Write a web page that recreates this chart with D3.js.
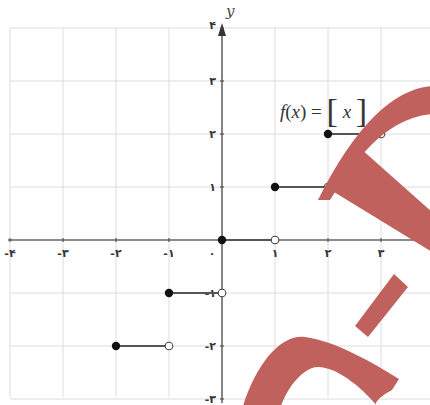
<!DOCTYPE html>
<html>
<head>
<meta charset="utf-8">
<script src="https://cdn.jsdelivr.net/npm/d3@7"></script>
<style>
  html, body { margin: 0; padding: 0; background: #fff; }
  svg { display: block; }
</style>
</head>
<body>
<div id="chart"></div>
<script>
// step pieces of f(x) = [x]
const stepStart = [-2, -1, 0, 1, 2];
const stepValue = [-2, -1, 0, 1, 2];

const xTicks = [-4, -3, -2, -1, 0, 1, 2, 3];
const yTicks = [-3, -2, -1, 1, 2, 3, 4];
const faDigits = ["۰", "۱", "۲", "۳", "۴", "۵", "۶", "۷", "۸", "۹"];

const width = 430, height = 405;

const toFa = v => (v < 0 ? "-" : "") + String(Math.abs(v)).split("").map(c => faDigits[+c]).join("");

const svg = d3.select("#chart")
  .append("svg")
  .attr("width", width)
  .attr("height", height);

const x = d3.scaleLinear().domain([-4, 4]).range([10, 434]);
const y = d3.scaleLinear().domain([-3, 4]).range([399, 28]);

// grid
const grid = svg.append("g").attr("stroke", "#dcdcdc").attr("stroke-width", 1);
grid.selectAll("line.v")
  .data(d3.range(-4, 5))
  .join("line")
  .attr("x1", d => x(d)).attr("x2", d => x(d))
  .attr("y1", y(4)).attr("y2", y(-3) - 2);
grid.selectAll("line.h")
  .data(d3.range(-3, 5))
  .join("line")
  .attr("x1", x(-4)).attr("x2", width)
  .attr("y1", d => y(d)).attr("y2", d => y(d));

// axes
const axes = svg.append("g").attr("stroke", "#6a6a6a").attr("stroke-width", 1.6);
axes.append("line")
  .attr("x1", x(-4)).attr("x2", width)
  .attr("y1", y(0)).attr("y2", y(0));
axes.append("line")
  .attr("x1", x(0)).attr("x2", x(0))
  .attr("y1", y(-3) + 4).attr("y2", y(4) + 4);
svg.append("path")
  .attr("d", `M${x(0)},${y(4) - 5} L${x(0) - 4},${y(4) + 8} L${x(0) + 4},${y(4) + 8} Z`)
  .attr("fill", "#333");
svg.append("circle").attr("cx", x(-4)).attr("cy", y(0)).attr("r", 1.8).attr("fill", "#666");

// ticks
svg.append("g").attr("stroke", "#555").attr("stroke-width", 1.2)
  .selectAll("line")
  .data(xTicks.filter(d => d !== 0 && d !== -4))
  .join("line")
  .attr("x1", d => x(d)).attr("x2", d => x(d))
  .attr("y1", y(0) - 2).attr("y2", y(0) + 2);
svg.append("g").attr("stroke", "#555").attr("stroke-width", 1.2)
  .selectAll("line")
  .data(yTicks)
  .join("line")
  .attr("x1", x(0) - 2).attr("x2", x(0) + 2)
  .attr("y1", d => y(d)).attr("y2", d => y(d));

// tick labels
const labelFont = "'DejaVu Sans', sans-serif";
svg.append("g")
  .selectAll("text")
  .data(xTicks)
  .join("text")
  .attr("x", d => d === 0 ? x(d) - 10 : x(d))
  .attr("y", y(0) + 17)
  .attr("text-anchor", "middle")
  .attr("font-family", labelFont)
  .attr("font-size", 11)
  .attr("font-weight", "bold")
  .attr("fill", "#333")
  .text(d => toFa(d));
svg.append("g")
  .selectAll("text")
  .data(yTicks)
  .join("text")
  .attr("x", x(0) - 6)
  .attr("y", d => y(d) + (d === 4 ? 1 : 4))
  .attr("text-anchor", "end")
  .attr("font-family", labelFont)
  .attr("font-size", 11)
  .attr("font-weight", "bold")
  .attr("fill", "#333")
  .text(d => toFa(d));

svg.append("text")
  .attr("x", x(0) + 4).attr("y", 16)
  .attr("font-family", "'DejaVu Serif', serif")
  .attr("font-style", "italic")
  .attr("font-size", 15)
  .attr("fill", "#444")
  .text("y");

// step segments
const steps = stepStart.map((s, i) => ({ x0: s, x1: s + 1, v: stepValue[i] }));
svg.append("g").attr("stroke", "#555").attr("stroke-width", 2)
  .selectAll("line")
  .data(steps)
  .join("line")
  .attr("x1", d => x(d.x0)).attr("x2", d => x(d.x1))
  .attr("y1", d => y(d.v)).attr("y2", d => y(d.v));
svg.append("g")
  .selectAll("circle")
  .data(steps)
  .join("circle")
  .attr("cx", d => x(d.x1)).attr("cy", d => y(d.v)).attr("r", 3.8)
  .attr("fill", "#fff").attr("stroke", "#444").attr("stroke-width", 1.1);
svg.append("g")
  .selectAll("circle")
  .data(steps)
  .join("circle")
  .attr("cx", d => x(d.x0)).attr("cy", d => y(d.v)).attr("r", 4.2)
  .attr("fill", "#111");

// formula label
const eq = svg.append("text")
  .attr("x", 280).attr("y", 118)
  .attr("font-family", "'Liberation Serif', 'DejaVu Serif', serif")
  .attr("font-size", 19)
  .attr("fill", "#333");
eq.append("tspan").attr("font-style", "italic").text("f");
eq.append("tspan").text("(");
eq.append("tspan").attr("font-style", "italic").text("x");
eq.append("tspan").text(") = ");
eq.append("tspan").attr("font-size", 34).attr("dy", 4).text("[");
eq.append("tspan").attr("font-style", "italic").attr("font-size", 19).attr("dy", -4).text(" x ");
eq.append("tspan").attr("font-size", 34).attr("dy", 4).text("]");

// watermark
const mark = svg.append("g").attr("fill", "#c1615e");
mark.append("path")
  .attr("d", "M432,86 C395,88 355,125 318,200 L330,200 C355,160 385,118 432,114 Z");
mark.append("path")
  .attr("d", "M360,148 L432,212 L432,252 L334,192 Z");
mark.append("path")
  .attr("d", "M355,326 L368,337 L408,287 L394,274 Z");
mark.append("path")
  .attr("d", "M243,406 C256,365 280,334 305,337 C335,341 372,362 399,379 L392,390 C372,401 376,406 376,406 L377,406 C360,385 330,362 312,368 C297,374 286,392 281,406 Z");
</script>
</body>
</html>
